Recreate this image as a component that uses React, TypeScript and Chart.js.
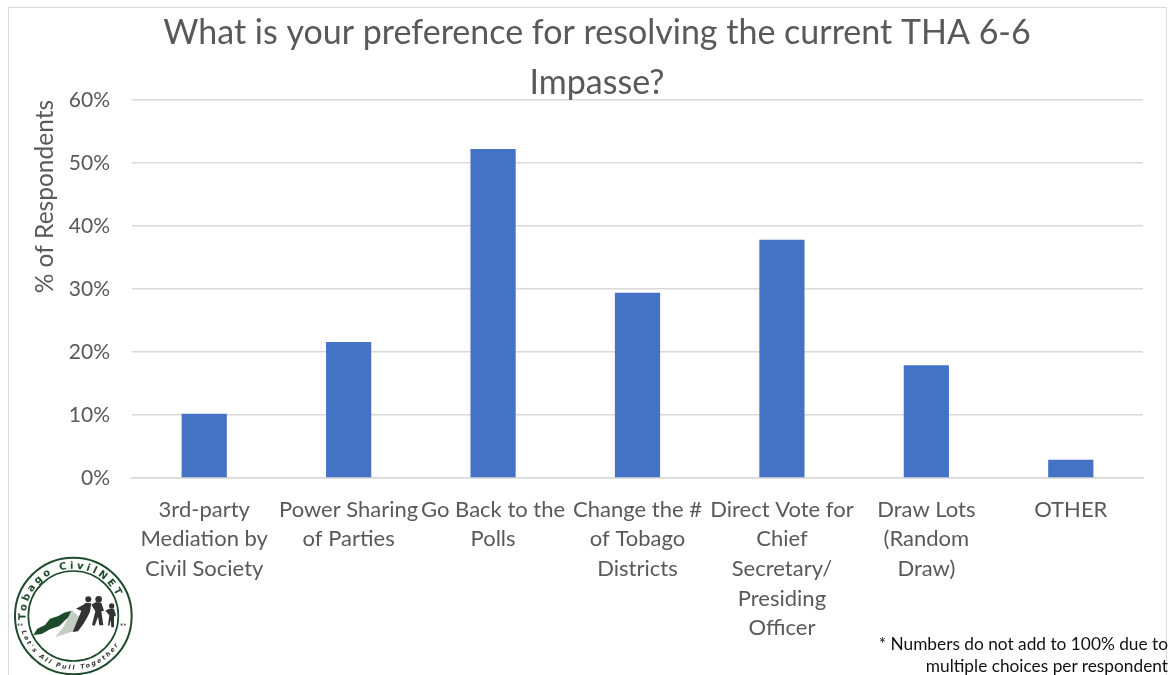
import React, { useEffect, useRef } from "react";
import { Chart, registerables } from "chart.js";

Chart.register(...registerables);

const titleLines = ["What is your preference for resolving the current THA 6-6", "Impasse?"];
const yAxisTitle = "% of Respondents";
const categories = [
  ["3rd-party", "Mediation by", "Civil Society"],
  ["Power Sharing", "of Parties"],
  ["Go Back to the", "Polls"],
  ["Change the #", "of Tobago", "Districts"],
  ["Direct Vote for", "Chief", "Secretary/", "Presiding", "Officer"],
  ["Draw Lots", "(Random", "Draw)"],
  ["OTHER"],
];
const values = [10.2, 21.6, 52.2, 29.4, 37.8, 17.9, 2.9];
const footnote = ["* Numbers do not add to 100% due to", "multiple choices per respondent"];

const FONT = "Lato, 'Open Sans', sans-serif";
const GREY = "#595959";
const GRID = "#d9d9d9";

function Logo() {
  const green = "#1c4a2a";
  const dark = "#333333";
  return (
    <svg
      width={200}
      height={135}
      viewBox="0 0 600 405"
      style={{ position: "absolute", left: 0, top: 540 }}
    >
      <circle cx={220} cy={228} r={175} fill="#fff" stroke={green} strokeWidth={6} />
      <circle cx={220} cy={228} r={135} fill="#fff" stroke={green} strokeWidth={5} />
      <defs>
        <path id="logoTop" d="M 78 246 A 143 143 0 1 1 362 246" />
        <path id="logoBottom" d="M 62 262 A 162 162 0 0 0 378 262" />
      </defs>
      <text fill={green} fontFamily="'DejaVu Sans', sans-serif" fontWeight={700} fontSize={30} letterSpacing={9}>
        <textPath href="#logoTop" startOffset="6">
          Tobago CivilNET
        </textPath>
      </text>
      <text fill={dark} fontFamily="'DejaVu Sans', sans-serif" fontWeight={700} fontStyle="italic" fontSize={19} letterSpacing={6}>
        <textPath href="#logoBottom" startOffset="12">
          {"Let's All Pull Together"}
        </textPath>
      </text>
      <text x={50} y={264} fill={dark} fontFamily="'DejaVu Sans', sans-serif" fontSize={20}>**</text>
      <text x={360} y={264} fill={dark} fontFamily="'DejaVu Sans', sans-serif" fontSize={20}>**</text>
      <path
        d="M 100 285 L 112 266 L 135 255 L 150 236 L 175 228 L 192 218 L 215 212 L 212 226 L 196 240 L 178 258 L 150 268 L 125 282 Z"
        fill={green}
      />
      <path d="M 215 210 L 248 240 L 225 272 L 165 292 L 190 262 Z" fill="#c4cdc4" />
      <circle cx={265} cy={178} r={9} fill={dark} />
      <circle cx={296} cy={178} r={10} fill={dark} />
      <circle cx={335} cy={198} r={8} fill={dark} />
      <path
        d="M 258 188 L 274 190 L 270 215 L 262 232 L 250 252 L 234 274 L 218 276 L 232 242 L 244 212 L 228 206 L 250 194 Z"
        fill={dark}
      />
      <path
        d="M 288 186 L 304 188 L 312 212 L 304 214 L 310 256 L 298 256 L 294 230 L 284 258 L 276 254 L 286 214 L 274 194 Z"
        fill={dark}
      />
      <path
        d="M 328 206 L 342 206 L 348 226 L 342 230 L 342 262 L 334 262 L 332 240 L 328 258 L 324 256 L 328 226 L 316 212 Z"
        fill={dark}
      />
    </svg>
  );
}

export default function App() {
  const ref = useRef<HTMLCanvasElement | null>(null);

  useEffect(() => {
    if (!ref.current) return;
    const chart = new Chart(ref.current, {
      type: "bar",
      data: {
        labels: categories,
        datasets: [
          {
            data: values,
            backgroundColor: "#4472C4",
            categoryPercentage: 1,
            barPercentage: 0.313,
          },
        ],
      },
      options: {
        responsive: false,
        animation: false,
        layout: { padding: { left: 51, right: 27, top: 0, bottom: 0 } },
        plugins: {
          legend: { display: false },
          tooltip: { enabled: false },
          title: {
            display: true,
            text: titleLines,
            color: GREY,
            font: { family: FONT, size: 34, weight: "normal", lineHeight: 1.47 },
            padding: { top: 8, bottom: -8 },
          },
        },
        scales: {
          x: {
            grid: { display: false },
            border: { color: GRID, width: 1.5 },
            ticks: {
              color: GREY,
              font: { family: FONT, size: 22, lineHeight: 1.345 },
              maxRotation: 0,
              autoSkip: false,
              padding: 9,
            },
            afterFit: (s: any) => {
              s.height = 675 - 478;
            },
          },
          y: {
            min: 0,
            max: 60,
            grid: { color: GRID, lineWidth: 1.5, drawTicks: false },
            border: { display: false },
            ticks: {
              stepSize: 10,
              color: GREY,
              font: { family: FONT, size: 21 },
              padding: 22,
              callback: (v: any) => `${v}%`,
            },
            title: {
              display: true,
              text: yAxisTitle,
              color: GREY,
              align: "end",
              font: { family: FONT, size: 24.5, weight: "normal" },
              padding: { top: -21, bottom: 0 },
            },
            afterFit: (s: any) => {
              s.width = 132 - 51;
            },
          },
        },
      },
    });
    return () => chart.destroy();
  }, []);

  return (
    <div style={{ position: "fixed", inset: 0, overflow: "hidden", background: "#fff" }}>
      <div
        style={{
          position: "absolute",
          left: 8,
          top: 7,
          width: 1159,
          height: 700,
          border: `1.5px solid ${GRID}`,
          boxSizing: "border-box",
        }}
      />
      <canvas
        ref={ref}
        width={1170}
        height={675}
        style={{ position: "absolute", left: 0, top: 0, width: 1170, height: 675 }}
      />
      <Logo />
      <div
        style={{
          position: "absolute",
          right: 2,
          top: 633,
          textAlign: "right",
          fontFamily: FONT,
          fontSize: 17.3,
          lineHeight: "22px",
          color: "#111",
          whiteSpace: "nowrap",
        }}
      >
        {footnote.map((l) => (
          <div key={l}>{l}</div>
        ))}
      </div>
    </div>
  );
}
